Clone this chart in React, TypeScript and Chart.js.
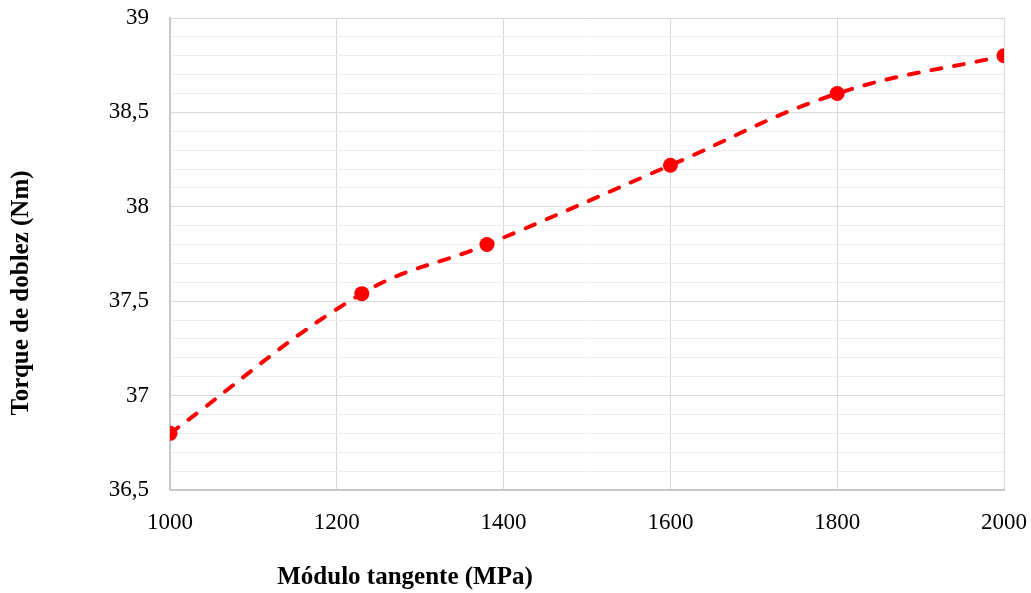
import React, { useEffect, useRef } from "react";
import { Chart, registerables } from "chart.js";

Chart.register(...registerables);

const modulo = [1000, 1230, 1380, 1600, 1800, 2000];
const torque = [36.8, 37.54, 37.8, 38.22, 38.6, 38.8];
const xTitle = "Módulo tangente (MPa)";
const yTitle = "Torque de doblez (Nm)";

const FONT = '"Liberation Serif", "Times New Roman", serif';

export default function App() {
  const ref = useRef<HTMLCanvasElement | null>(null);

  useEffect(() => {
    if (!ref.current) return;
    const titlePlugin = {
      id: "titles",
      afterDraw(chart: any) {
        const ctx = chart.ctx;
        ctx.save();
        ctx.fillStyle = "#000";
        ctx.font = `bold 25px ${FONT}`;
        ctx.textAlign = "center";
        ctx.textBaseline = "middle";
        ctx.fillText(xTitle, 405, 578);
        ctx.translate(22, 293);
        ctx.rotate(-Math.PI / 2);
        ctx.fillText(yTitle, 0, 0);
        ctx.restore();
      },
    };
    const chart = new Chart(ref.current, {
      type: "line",
      data: {
        datasets: [
          {
            data: modulo.map((x, i) => ({ x, y: torque[i] })),
            borderColor: "#ff0000",
            backgroundColor: "#ff0000",
            borderWidth: 4,
            borderDash: [10, 13],
            borderCapStyle: "round",
            tension: 0.4,
            pointRadius: 7.5,
            pointBackgroundColor: "#ff0000",
            pointBorderWidth: 0,
            fill: false,
          },
        ],
      },
      options: {
        animation: false,
        responsive: true,
        maintainAspectRatio: false,
        layout: { padding: { top: 18, right: 27, left: 0, bottom: 0 } },
        plugins: { legend: { display: false }, tooltip: { enabled: false } },
        scales: {
          x: {
            type: "linear",
            min: 1000,
            max: 2000,
            ticks: {
              stepSize: 200,
              color: "#000",
              font: { family: FONT, size: 23 },
              padding: 19,
              maxRotation: 0,
              callback: (v: any) => String(v),
            },
            grid: { color: "#d9d9d9", lineWidth: 1, drawTicks: false },
            border: { color: "#c8c8c8", width: 2 },
            afterFit(scale: any) {
              scale.height = 103;
              scale.paddingLeft = 0;
              scale.paddingRight = 0;
            },
          },
          y: {
            type: "linear",
            min: 36.5,
            max: 39,
            ticks: {
              stepSize: 0.1,
              autoSkip: false,
              color: "#000",
              font: { family: FONT, size: 23 },
              padding: 21,
              callback: (v: any) => {
                const r = Math.round(Number(v) * 10) / 10;
                if (Math.abs(r * 2 - Math.round(r * 2)) > 1e-6) return "";
                return String(r).replace(".", ",");
              },
            },
            grid: {
              drawTicks: false,
              color: (c: any) => {
                const v = Math.round(c.tick.value * 10) / 10;
                return Math.abs(v * 2 - Math.round(v * 2)) < 1e-6 ? "#d9d9d9" : "#eeeeee";
              },
              lineWidth: 1,
            },
            border: { color: "#c8c8c8", width: 2 },
            afterFit(scale: any) {
              scale.width = 170;
              scale.paddingTop = 0;
              scale.paddingBottom = 0;
            },
          },
        },
      },
      plugins: [titlePlugin],
    });
    return () => chart.destroy();
  }, []);

  return (
    <div style={{ position: "fixed", left: 0, top: 0, width: 1031, height: 593, background: "#fff" }}>
      <canvas ref={ref} />
    </div>
  );
}
